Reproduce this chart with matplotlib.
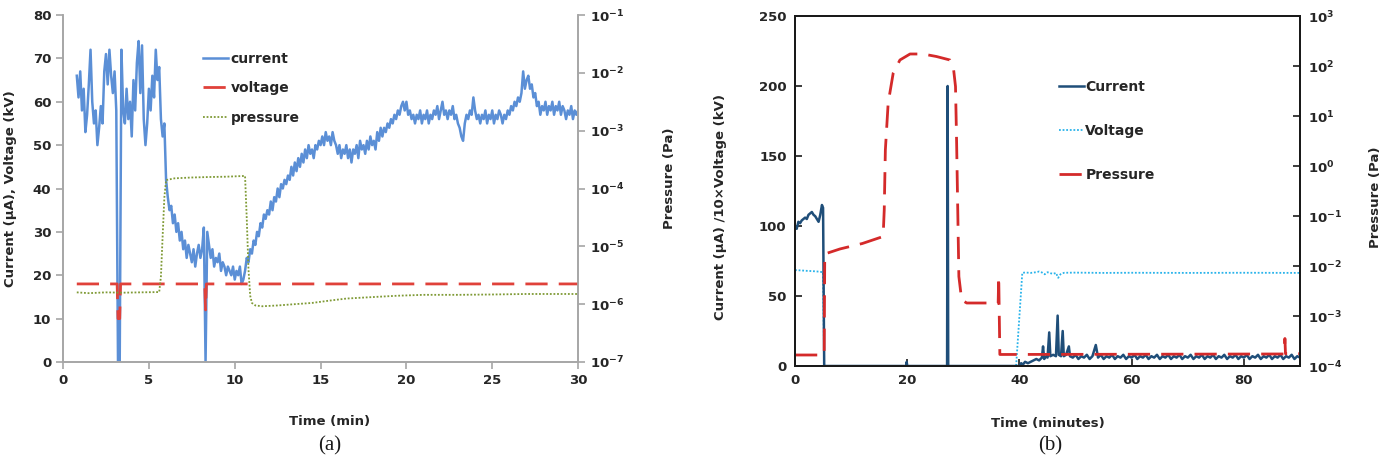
import matplotlib
matplotlib.use("Agg")
import matplotlib.pyplot as plt
from matplotlib import ticker
import numpy as np

plt.rcParams['font.family'] = ['DejaVu Sans']
plt.rcParams['font.weight'] = 'bold'
plt.rcParams['axes.labelweight'] = 'bold'
plt.rcParams['mathtext.default'] = 'regular'

# ---------------- panel (a) ----------------
cur_a_t = [0.8, 0.9,
           1.0, 1.1, 1.2, 1.3, 1.4, 1.5, 1.6, 1.7, 1.8, 1.9,
           2.0, 2.1, 2.2, 2.3, 2.4, 2.5, 2.6, 2.7, 2.8, 2.9,
           3.0, 3.1, 3.2, 3.3, 3.4, 3.5, 3.6, 3.7, 3.8, 3.9,
           4.0, 4.1, 4.2, 4.3, 4.4, 4.5, 4.6, 4.7, 4.8, 4.9,
           5.0, 5.1, 5.2, 5.3, 5.4, 5.5, 5.6, 5.7, 5.8, 5.9,
           6.0, 6.1, 6.2, 6.3, 6.4, 6.5, 6.6, 6.7, 6.8, 6.9,
           7.0, 7.1, 7.2, 7.3, 7.4, 7.5, 7.6, 7.7, 7.8, 7.9,
           8.0, 8.1, 8.2, 8.3, 8.4, 8.5, 8.6, 8.7, 8.8, 8.9,
           9.0, 9.1, 9.2, 9.3, 9.4, 9.5, 9.6, 9.7, 9.8, 9.9,
           10.0, 10.1, 10.2, 10.3, 10.4, 10.5, 10.6, 10.7, 10.8, 10.9,
           11.0, 11.1, 11.2, 11.3, 11.4, 11.5, 11.6, 11.7, 11.8, 11.9,
           12.0, 12.1, 12.2, 12.3, 12.4, 12.5, 12.6, 12.7, 12.8, 12.9,
           13.0, 13.1, 13.2, 13.3, 13.4, 13.5, 13.6, 13.7, 13.8, 13.9,
           14.0, 14.1, 14.2, 14.3, 14.4, 14.5, 14.6, 14.7, 14.8, 14.9,
           15.0, 15.1, 15.2, 15.3, 15.4, 15.5, 15.6, 15.7, 15.8, 15.9,
           16.0, 16.1, 16.2, 16.3, 16.4, 16.5, 16.6, 16.7, 16.8, 16.9,
           17.0, 17.1, 17.2, 17.3, 17.4, 17.5, 17.6, 17.7, 17.8, 17.9,
           18.0, 18.1, 18.2, 18.3, 18.4, 18.5, 18.6, 18.7, 18.8, 18.9,
           19.0, 19.1, 19.2, 19.3, 19.4, 19.5, 19.6, 19.7, 19.8, 19.9,
           20.0, 20.1, 20.2, 20.3, 20.4, 20.5, 20.6, 20.7, 20.8, 20.9,
           21.0, 21.1, 21.2, 21.3, 21.4, 21.5, 21.6, 21.7, 21.8, 21.9,
           22.0, 22.1, 22.2, 22.3, 22.4, 22.5, 22.6, 22.7, 22.8, 22.9,
           23.0, 23.1, 23.2, 23.3, 23.4, 23.5, 23.6, 23.7, 23.8, 23.9,
           24.0, 24.1, 24.2, 24.3, 24.4, 24.5, 24.6, 24.7, 24.8, 24.9,
           25.0, 25.1, 25.2, 25.3, 25.4, 25.5, 25.6, 25.7, 25.8, 25.9,
           26.0, 26.1, 26.2, 26.3, 26.4, 26.5, 26.6, 26.7, 26.8, 26.9,
           27.0, 27.1, 27.2, 27.3, 27.4, 27.5, 27.6, 27.7, 27.8, 27.9,
           28.0, 28.1, 28.2, 28.3, 28.4, 28.5, 28.6, 28.7, 28.8, 28.9,
           29.0, 29.1, 29.2, 29.3, 29.4, 29.5, 29.6, 29.7, 29.8, 29.9,
           30.0]
cur_a = [66, 61,
         67, 58, 63, 53, 57, 64, 72, 60, 55, 58,
         50, 54, 59, 55, 67, 71, 64, 72, 66, 62,
         67, 58, 0, 0, 72, 58, 55, 63, 56, 60,
         52, 65, 58, 69, 74, 62, 73, 56, 50, 55,
         63, 58, 66, 61, 72, 65, 68, 56, 52, 55,
         42, 38, 35, 36, 32, 34, 30, 32, 28, 30,
         26, 28, 24, 27, 25, 23, 26, 22, 25, 27,
         24, 26, 31, 0, 30, 27, 24, 26, 22, 24,
         23, 25, 21, 23, 22, 20, 22, 21, 20, 22,
         19, 21, 20, 22, 18, 19, 21, 24, 23, 26,
         25, 28, 27, 30, 29, 32, 31, 34, 33, 35,
         34, 37, 35, 38, 37, 40, 38, 41, 40, 42,
         41, 43, 42, 45, 43, 46, 44, 47, 45, 48,
         46, 49, 47, 50, 48, 49, 47, 50, 49, 51,
         50, 52, 50, 53, 51, 52, 50, 53, 51, 50,
         48, 50, 47, 49, 48, 50, 47, 49, 46, 49,
         48, 50, 47, 51, 49, 50, 48, 51, 49, 52,
         50, 51, 49, 53, 51, 54, 52, 54, 53, 55,
         54, 56, 55, 57, 56, 58, 57, 59, 60, 58,
         60, 57, 58, 56, 57, 55, 57, 56, 58, 55,
         57, 56, 58, 55, 57, 56, 58, 57, 59, 56,
         58, 60, 57, 58, 56, 58, 57, 59, 56, 57,
         55, 54, 52, 51, 55, 57, 56, 58, 57, 61,
         58, 56, 57, 55, 57, 56, 58, 55, 57, 56,
         58, 55, 57, 56, 58, 57, 55, 57, 56, 58,
         57, 59, 58, 60, 59, 61, 60, 62, 67, 63,
         65, 66, 63, 64, 61, 62, 59, 60, 57, 59,
         58, 60, 57, 59, 58, 60, 57, 59, 58, 60,
         57, 59, 58, 56, 58, 57, 59, 56, 58, 57,
         58]

volt_a_t = [0.8, 3.15, 3.2, 3.3, 3.35, 8.25, 8.3, 8.35, 30.0]
volt_a = [18, 18, 10, 10, 18, 18, 12, 18, 18]

pres_a_t = [0.8, 1.5, 2.5, 3.5, 4.5, 5.6, 5.7, 5.8, 5.9, 6.0, 6.5, 7.5, 8.5, 9.5,
            10.6, 10.7, 10.8, 10.9, 11.0, 11.2, 11.6, 12.5, 13.5, 14.5, 15.5,
            16.5, 17.5, 18.5, 19.5, 21, 23, 25, 27, 29, 30]
pres_a = [1.6e-6, 1.55e-6, 1.6e-6, 1.58e-6, 1.6e-6, 1.62e-6, 3e-6, 1.5e-5, 7e-5,
          1.4e-4, 1.5e-4, 1.55e-4, 1.58e-4, 1.6e-4, 1.65e-4, 3e-5, 4e-6, 1.4e-6,
          1.05e-6, 9.5e-7, 9.2e-7, 9.5e-7, 1.0e-6, 1.05e-6, 1.15e-6, 1.25e-6,
          1.3e-6, 1.35e-6, 1.4e-6, 1.45e-6, 1.45e-6, 1.47e-6, 1.5e-6, 1.5e-6, 1.5e-6]

# ---------------- panel (b) ----------------
cur_b_t = [0, 0.3, 0.6, 0.9, 1.2, 1.5, 1.8, 2.1, 2.4, 2.7, 3.0, 3.3, 3.6, 3.9,
           4.2, 4.5, 4.8, 5.0, 5.1, 5.2, 19.8, 19.9, 20.0, 27.1, 27.2, 27.3,
           40.0, 40.3, 40.6, 41.0, 41.5, 42.0, 42.5, 43.0, 43.5, 44.0, 44.2,
           44.4, 44.8, 45.0, 45.3, 45.5, 46.0, 46.5, 46.8, 47.0, 47.4, 47.7,
           47.9, 48.3, 48.8, 49.0, 49.5, 50.0, 50.5, 51.0, 51.5, 52.0, 52.5,
           53.0, 53.6, 54.0, 54.5, 55.0, 55.5, 56.0, 56.5, 57.0, 57.5, 58.0,
           58.5, 59.0, 59.5, 60.0, 60.5, 61.0, 61.5, 62.0, 62.5, 63.0, 63.5,
           64.0, 64.5, 65.0, 65.5, 66.0, 66.5, 67.0, 67.5, 68.0, 68.5, 69.0,
           69.5, 70.0, 70.5, 71.0, 71.5, 72.0, 72.5, 73.0, 73.5, 74.0, 74.5,
           75.0, 75.5, 76.0, 76.5, 77.0, 77.5, 78.0, 78.5, 79.0, 79.5, 80.0,
           80.5, 81.0, 81.5, 82.0, 82.5, 83.0, 83.5, 84.0, 84.5, 85.0, 85.5,
           86.0, 86.5, 87.0, 87.5, 88.0, 88.5, 89.0, 89.5, 90.0]
cur_b = [100, 98, 103, 102, 104, 105, 106, 105, 108, 109, 110, 108, 107, 105,
         103, 108, 115, 113, 60, 0, 0, 3, 0, 0, 200, 0,
         0, 2, 1, 3, 2, 3, 4, 5, 4, 6, 14,
         5, 7, 6, 24, 7, 8, 7, 36, 8, 7, 25,
         7, 8, 14, 7, 6, 8, 5, 7, 6, 8, 5,
         7, 15, 6, 8, 5, 7, 6, 8, 5, 7, 6,
         8, 5, 7, 6, 8, 5, 7, 6, 8, 5, 7,
         6, 8, 5, 7, 6, 8, 5, 7, 6, 8, 5,
         7, 6, 8, 5, 7, 6, 8, 5, 7, 6, 8,
         5, 7, 6, 8, 5, 7, 6, 8, 5, 7, 6,
         8, 5, 7, 6, 8, 5, 7, 6, 8, 5, 7,
         6, 8, 5, 7, 6, 8, 5, 7, 6]

volt_b_t = [0, 1, 2, 3, 4, 5.0, 5.2, 39.4, 40.5, 41, 42, 43, 43.5, 44, 44.5, 45,
            45.5, 46, 46.5, 46.9, 47.3, 47.6, 48, 50, 55, 60, 70, 80, 90]
volt_b = [68.5, 68.3, 68, 67.8, 67.5, 67, 0, 0, 66.5, 66.8, 66.5, 67, 67.5, 66.8,
          65.5, 67, 66.3, 65.8, 66.5, 63, 65.5, 66.2, 66.6, 66.7, 66.5, 66.6,
          66.5, 66.6, 66.5]

pres_b_t = [0, 5.2, 5.3, 8, 12, 15.7, 15.9, 16.1, 16.6, 17.5, 18.7, 20.5, 22.8,
            25.2, 27.6, 28.2, 28.6, 28.8, 29.0, 29.2, 29.7, 30.6, 36.2, 36.3,
            36.5, 87.2, 87.3, 87.4, 90]
pres_b = [1.66e-4, 1.66e-4, 0.0174, 0.0219, 0.0282, 0.0389, 0.132, 2.09, 18.2,
          72.4, 132, 174, 174, 155, 132, 98, 38.9, 2.88, 0.132, 0.00617,
          0.00209, 0.00182, 0.00182, 0.0062, 1.7e-4, 1.74e-4, 3.55e-4, 1.76e-4,
          1.76e-4]

fig = plt.figure(figsize=(13.86, 4.55), dpi=100)
txt = '#262626'
fs = 9.5

# ---- (a)
ax1 = fig.add_axes([0.0455, 0.2044, 0.3716, 0.7626])
ax1.plot(cur_a_t, cur_a, color='#5B8FD6', lw=1.8, label='current', zorder=2)
ax1.plot(volt_a_t, volt_a, color='#E0413A', lw=2, dashes=(8, 4), label='voltage', zorder=3)
ax1.set_xlim(0, 30)
ax1.set_ylim(0, 80)
ax1.set_xticks(range(0, 31, 5))
ax1.set_yticks(range(0, 81, 10))
ax2 = ax1.twinx()
ax2.plot(pres_a_t, pres_a, color='#7F9A35', lw=1.3, ls=(0, (1, 1)), label='pressure')
ax2.set_yscale('log')
ax2.set_ylim(1e-7, 1e-1)
ax2.yaxis.set_major_locator(ticker.LogLocator(base=10, numticks=10))
ax2.yaxis.set_minor_locator(ticker.NullLocator())
for a in (ax1, ax2):
    a.spines['top'].set_visible(False)
    for s in ('left', 'right', 'bottom'):
        a.spines[s].set_color('#A6A6A6')
        a.spines[s].set_linewidth(1.2)
    a.tick_params(direction='out', length=5, width=1.2, color='#A6A6A6',
                  labelsize=fs, labelcolor=txt)
ax1.set_xlabel('Time (min)', fontsize=fs, color=txt, weight='bold')
ax1.xaxis.set_label_coords(0.518, -0.153)
ax1.set_ylabel('Current (μA), Voltage (kV)', fontsize=fs, color=txt, weight='bold')
ax1.yaxis.set_label_coords(-0.089, 0.5)
ax2.set_ylabel('Pressure (Pa)', fontsize=fs, color=txt, weight='bold')
ax2.yaxis.set_label_coords(1.165, 0.53)
h1, l1 = ax1.get_legend_handles_labels()
h2, l2 = ax2.get_legend_handles_labels()
ax2.legend(h1 + h2, l1 + l2, loc='upper left', bbox_to_anchor=(203 / 1386, 1 - 52 / 455),
           bbox_transform=fig.transFigure, frameon=False, fontsize=10,
           handlelength=1.8, handletextpad=0.2, labelspacing=1.1,
           borderpad=0, borderaxespad=0, labelcolor=txt)

# ---- (b)
ax3 = fig.add_axes([0.5736, 0.1956, 0.3644, 0.7692])
ax3.plot(cur_b_t, cur_b, color='#1F4E79', lw=1.8, label='Current', zorder=3)
ax3.plot(volt_b_t, volt_b, color='#29B3EA', lw=1.3, ls=(0, (1, 1)), label='Voltage', zorder=2)
ax3.set_xlim(0, 90)
ax3.set_ylim(0, 250)
ax3.set_xticks(range(0, 81, 20))
ax3.set_yticks(range(0, 251, 50))
ax4 = ax3.twinx()
ax4.plot(pres_b_t, pres_b, color='#D42A2A', lw=2, dashes=(8, 4), label='Pressure')
ax4.set_yscale('log')
ax4.set_ylim(1e-4, 1e3)
ax4.yaxis.set_major_locator(ticker.LogLocator(base=10, numticks=10))
ax4.yaxis.set_minor_locator(ticker.NullLocator())
for a in (ax3, ax4):
    for s in a.spines.values():
        s.set_color('#1A1A1A')
        s.set_linewidth(1.4)
    a.tick_params(direction='in', length=5, width=1.2, color='#1A1A1A',
                  labelsize=fs, labelcolor=txt, pad=6)
ax3.set_xlabel('Time (minutes)', fontsize=fs, color=txt, weight='bold')
ax3.xaxis.set_label_coords(0.50, -0.146)
ax3.set_ylabel('Current (μA) /10×Voltage (kV)', fontsize=fs, color=txt, weight='bold')
ax3.yaxis.set_label_coords(-0.135, 0.454)
ax4.set_ylabel('Pressure (Pa)', fontsize=fs, color=txt, weight='bold')
ax4.yaxis.set_label_coords(1.137, 0.483)
h3, l3 = ax3.get_legend_handles_labels()
h4, l4 = ax4.get_legend_handles_labels()
ax4.legend(h3 + h4, l3 + l4, loc='upper left', bbox_to_anchor=(1059 / 1386, 1 - 80 / 455),
           bbox_transform=fig.transFigure, frameon=False, fontsize=10,
           handlelength=1.8, handletextpad=0.1, labelspacing=2.15,
           borderpad=0, borderaxespad=0, labelcolor=txt)

fig.text(330 / 1386, 1 - 436 / 455, '(a)', family='Liberation Serif', weight='normal',
         fontsize=15, ha='center', va='top', color='#1A1A1A')
fig.text(1050 / 1386, 1 - 436 / 455, '(b)', family='Liberation Serif', weight='normal',
         fontsize=15, ha='center', va='top', color='#1A1A1A')

fig.savefig('out.png', dpi=100)
